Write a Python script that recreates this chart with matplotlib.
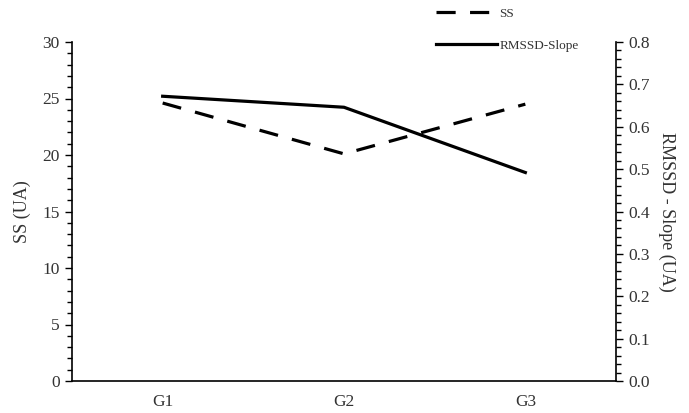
import matplotlib
matplotlib.use("Agg")
import matplotlib.pyplot as plt
from matplotlib.ticker import MultipleLocator
from matplotlib.lines import Line2D

groups = ["G1", "G2", "G3"]
ss_values = [24.6, 20.1, 24.5]
rmssd_slope = [0.672, 0.646, 0.492]

plt.rcParams['font.family'] = ['Liberation Serif', 'DejaVu Serif']

fig = plt.figure(figsize=(6.89, 4.13), dpi=100)
ax = fig.add_axes([72 / 689, 1 - 381 / 413, 544 / 689, 339 / 413])
ax2 = ax.twinx()

x = range(len(groups))
ax.plot(x, ss_values, color='black', lw=2.3, dashes=(6, 4.5), label='SS')
ax2.plot(x, rmssd_slope, color='black', lw=2.3, label='RMSSD-Slope')

ax.set_xlim(-0.5, 2.5)
ax.set_ylim(0, 30)
ax2.set_ylim(0, 0.8)
ax.set_xticks(list(x))
ax.set_xticklabels(groups)
ax.tick_params(axis='x', length=0, pad=9, labelsize=12.5, colors='#333333')

ax.yaxis.set_major_locator(MultipleLocator(5))
ax.yaxis.set_minor_locator(MultipleLocator(1))
ax2.yaxis.set_major_locator(MultipleLocator(0.1))
ax2.yaxis.set_minor_locator(MultipleLocator(0.02))
ax2.yaxis.set_major_formatter(plt.FuncFormatter(lambda v, p: f"{v:.1f}"))

for a in (ax, ax2):
    a.tick_params(axis='y', which='major', length=5, width=1, direction='out', labelsize=12.5, labelcolor='#333333', pad=4)
    a.tick_params(axis='y', which='minor', length=3.5, width=1, direction='out')
    a.spines['top'].set_visible(False)

ax.spines['right'].set_visible(False)
ax2.spines['left'].set_visible(False)
ax2.spines['bottom'].set_visible(False)
for s in ('left', 'bottom'):
    ax.spines[s].set_linewidth(1.2)
ax2.spines['right'].set_linewidth(1.2)

ax.set_ylabel('SS (UA)', fontsize=13, color='#333333', labelpad=8)
ax2.set_ylabel('RMSSD - Slope (UA)', fontsize=13, color='#333333', rotation=270, labelpad=18)

handles = [Line2D([], [], color='black', lw=2.3, dashes=(6, 4.5)),
           Line2D([], [], color='black', lw=2.3)]
fig.legend(handles, ['SS', 'RMSSD-Slope'], loc='upper left',
           bbox_to_anchor=(424 / 689, 1.01), frameon=False, fontsize=9.5,
           handlelength=4.6, handletextpad=0.2, labelspacing=1.5,
           labelcolor='#333333')

fig.savefig('out.png', dpi=100)
